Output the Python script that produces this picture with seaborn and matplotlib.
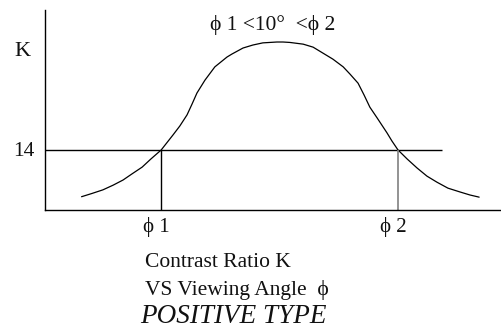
import matplotlib
matplotlib.use("Agg")
import matplotlib.pyplot as plt
import seaborn as sns

# Contrast ratio K against viewing angle (degrees)
angle = [-50.4, -47.7, -44.8, -42.1, -39.5, -37.2, -34.5, -32.2, -29.5, -26.4,
         -24.6, -22.7, -21.4, -20.1, -18.0, -15.4, -12.2, -10.9, -8.0, -5.4,
         -2.8, 0.9, 2.5, 4.3, 7.8, 10.4, 13.0, 15.6, 18.3, 20.1, 22.2, 23.8,
         25.3, 27.2, 29.8, 31.1, 32.7, 35.1, 37.7, 40.3, 42.9, 45.8, 49.0,
         51.6, 54.0]
contrast = [3.1, 3.85, 4.7, 5.8, 7.0, 8.4, 10.0, 11.9, 14.0, 17.5,
            19.6, 22.2, 24.7, 27.3, 30.3, 33.4, 35.7, 36.4, 37.8, 38.5,
            39.0, 39.2, 39.2, 39.1, 38.7, 38.0, 36.6, 35.2, 33.4, 31.7, 29.6, 26.8,
            24.0, 21.5, 18.0, 16.1, 14.0, 11.9, 9.8, 7.9, 6.5, 5.1, 4.2,
            3.5, 3.0]

k_threshold = 14
phi1 = -29.5
phi2 = 32.7

W, H = 502, 328
sns.set_style("white")
plt.rcParams["font.family"] = ["Liberation Serif", "DejaVu Serif"]

fig = plt.figure(figsize=(W / 100, H / 100), dpi=100)
ax = fig.add_axes([45 / W, (H - 210) / H, 1 - 45 / W, 200 / H])

sns.lineplot(x=angle, y=contrast, ax=ax, color="black", lw=0.9)
ax.hlines(k_threshold, -60, 44.2, color="black", lw=1.0)
ax.vlines(phi1, 0, k_threshold, color="black", lw=1.0)
ax.vlines(phi2, 0, k_threshold, color="#808080", lw=1.2)

ax.set_xlim(-60, 60)
ax.set_ylim(0, 46.67)
ax.set_xticks([])
ax.set_yticks([])
ax.set_xlabel("")
ax.set_ylabel("")
sns.despine(ax=ax, top=True, right=True)
for side in ("left", "bottom"):
    ax.spines[side].set_color("black")
    ax.spines[side].set_linewidth(1.0)


def put(x, y, s, size, **kw):
    fig.text(x / W, 1 - y / H, s, fontsize=size, ha="left", va="baseline",
             color="#111111", **kw)


PHI = "\u03d5"
put(14, 56, "K", 16)
put(13, 156, "14", 15.5)
put(210, 30, f"{PHI} 1 <10\u00b0  <{PHI} 2", 15.5)
put(143, 232, f"{PHI} 1", 15)
put(380, 232, f"{PHI} 2", 15)
put(145, 267, "Contrast Ratio K", 15.5)
put(145, 295, f"VS Viewing Angle  {PHI}", 15.5)
put(140, 323, "POSITIVE TYPE", 19.5, style="italic")

fig.savefig("out.png", dpi=100)
